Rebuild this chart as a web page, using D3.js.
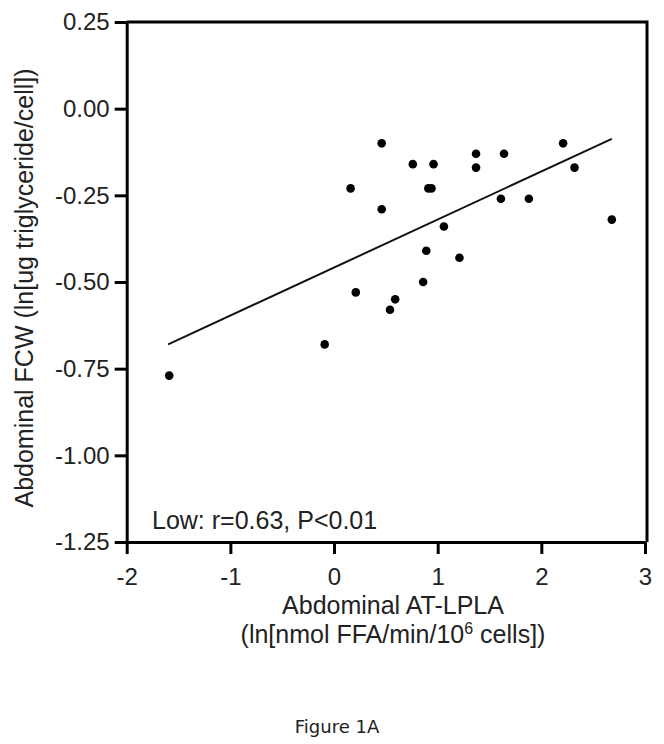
<!DOCTYPE html>
<html>
<head>
<meta charset="utf-8">
<script src="https://cdn.jsdelivr.net/npm/d3@7"></script>
<style>
  body { margin: 0; background: #fff; }
  text { font-family: "Liberation Sans", Arial, sans-serif; fill: #222; }
</style>
</head>
<body>
<div id="main"></div>
<script>
// scatter values
var lplaValues = [0.46, 0.76, 0.96, 1.37, 1.37, 1.64, 2.21, 2.32, 0.16, 0.91, 0.94, 0.46,
  1.61, 1.88, 2.68, 1.06, 0.89, 1.21, 0.86, 0.21, 0.59, 0.54, -0.09, -1.59];
var fcwValues = [-0.10, -0.16, -0.16, -0.13, -0.17, -0.13, -0.10, -0.17, -0.23, -0.23, -0.23, -0.29,
  -0.26, -0.26, -0.32, -0.34, -0.41, -0.43, -0.50, -0.53, -0.55, -0.58, -0.68, -0.77];
// regression line ends
var fitX = [-1.6, 2.68];
var fitY = [-0.68, -0.087];
var xTicks = [-2, -1, 0, 1, 2, 3];
var yTicks = [0.25, 0, -0.25, -0.5, -0.75, -1, -1.25];

var width = 664, height = 744;
var svg = d3.select("#main").append("svg")
  .attr("width", width).attr("height", height);

var x = d3.scaleLinear().domain([-2, 3]).range([126.7, 645]);
var y = d3.scaleLinear().domain([-1.25, 0.25]).range([542, 22]);

// frame (top + right)
svg.append("path")
  .attr("d", "M" + x(-2) + "," + y(0.25) + "H" + (x(3) + 2) + "V" + y(-1.25))
  .attr("fill", "none").attr("stroke", "#000").attr("stroke-width", 3);

var yAxis = svg.append("g")
  .attr("transform", "translate(" + x(-2) + ",0)")
  .call(d3.axisLeft(y).tickValues(yTicks).tickSize(12).tickSizeOuter(0).tickPadding(5)
    .tickFormat(function (d) { return d.toFixed(2); }));
var xAxis = svg.append("g")
  .attr("transform", "translate(0," + y(-1.25) + ")")
  .call(d3.axisBottom(x).tickValues(xTicks).tickSize(12).tickSizeOuter(0).tickPadding(14)
    .tickFormat(function (d) { return String(d); }));

[yAxis, xAxis].forEach(function (a) {
  a.select(".domain").attr("stroke-width", 3);
  a.selectAll(".tick line").attr("stroke-width", 3);
  a.selectAll(".tick text")
    .style("font-family", "Liberation Sans, Arial, sans-serif")
    .style("font-size", "24px").attr("fill", "#222");
});

// regression line
svg.append("line")
  .attr("x1", x(fitX[0])).attr("y1", y(fitY[0]))
  .attr("x2", x(fitX[1])).attr("y2", y(fitY[1]))
  .attr("stroke", "#111").attr("stroke-width", 2);

svg.selectAll(".pt")
  .data(lplaValues)
  .enter().append("circle")
  .attr("class", "pt")
  .attr("cx", function (d) { return x(d); })
  .attr("cy", function (d, i) { return y(fcwValues[i]); })
  .attr("r", 4.3)
  .attr("fill", "#000");

svg.append("text")
  .attr("x", 152).attr("y", 529)
  .style("font-size", "25px")
  .text("Low: r=0.63, P<0.01");

// axis titles
svg.append("text")
  .attr("transform", "translate(33,288) rotate(-90)")
  .attr("text-anchor", "middle")
  .style("font-size", "25px")
  .text("Abdominal FCW (ln[ug triglyceride/cell])");

svg.append("text")
  .attr("x", 393).attr("y", 614)
  .attr("text-anchor", "middle")
  .style("font-size", "25px")
  .text("Abdominal AT-LPLA");

var t2 = svg.append("text")
  .attr("x", 393).attr("y", 643)
  .attr("text-anchor", "middle")
  .style("font-size", "25px");
t2.append("tspan").text("(ln[nmol FFA/min/10");
t2.append("tspan").attr("dy", -9).style("font-size", "16px").text("6");
t2.append("tspan").attr("dy", 9).text(" cells])");

svg.append("text")
  .attr("x", 337).attr("y", 733)
  .attr("text-anchor", "middle")
  .style("font-family", "DejaVu Sans, Verdana, sans-serif")
  .style("font-size", "18px")
  .text("Figure 1A");
</script>
</body>
</html>
